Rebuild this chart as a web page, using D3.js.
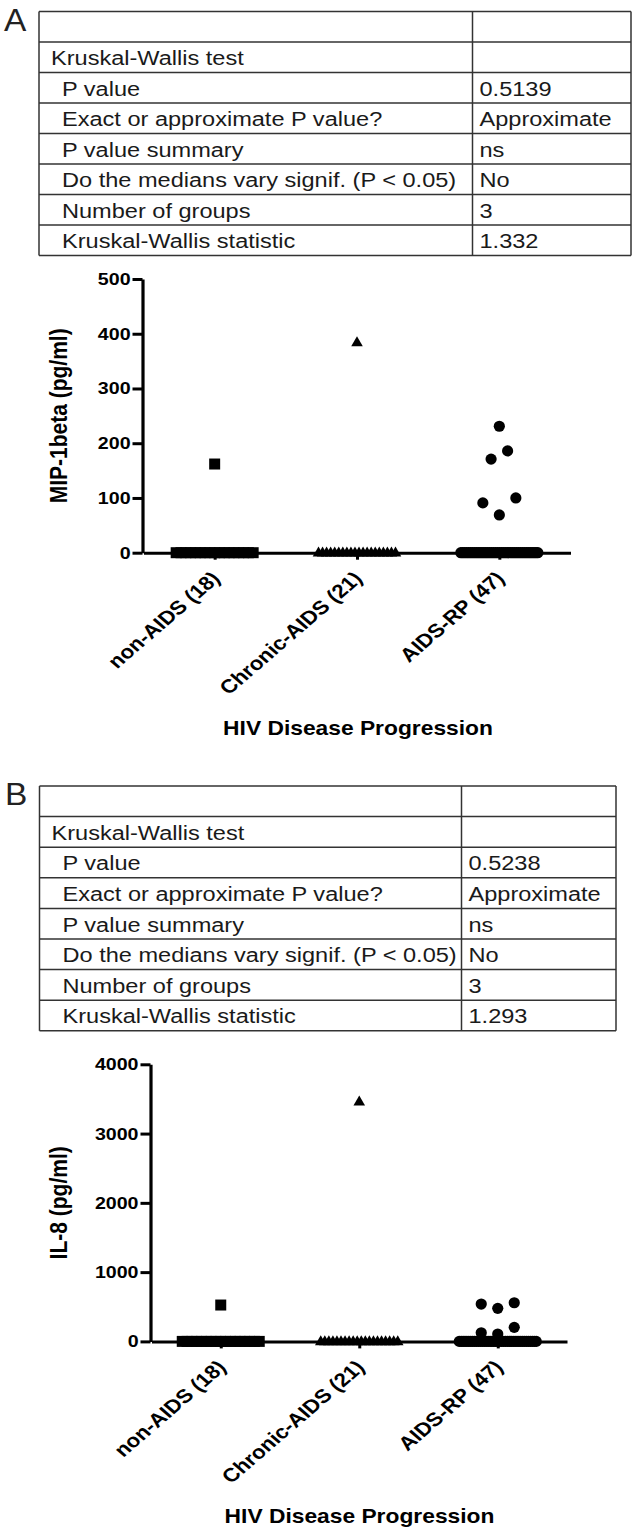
<!DOCTYPE html>
<html><head><meta charset="utf-8">
<script src="https://cdn.jsdelivr.net/npm/d3@7"></script>
<style>
html,body{margin:0;padding:0;background:#fff;}
svg{display:block;}
</style></head>
<body>
<script>
// ---------------- DATA ----------------
const groups = ["non-AIDS (18)", "Chronic-AIDS (21)", "AIDS-RP (47)"];
const groupShapes = ["square", "triangle", "circle"];

const tableLabels = ["", "Kruskal-Wallis test", "P value", "Exact or approximate P value?",
  "P value summary", "Do the medians vary signif. (P < 0.05)", "Number of groups", "Kruskal-Wallis statistic"];
const tableIndent = [0, 0, 1, 1, 1, 1, 1, 1];
const tableA_values = ["", "", "0.5139", "Approximate", "ns", "No", "3", "1.332"];
const tableB_values = ["", "", "0.5238", "Approximate", "ns", "No", "3", "1.293"];

// MIP-1beta (pg/ml)
const mip_nonAIDS = [162, 0,0,0,0,0,0,0,0,0,0,0,0,0,0,0,0,0];
const mip_chronic = [384, 0,0,0,0,0,0,0,0,0,0,0,0,0,0,0,0,0,0,0,0];
const mip_aidsRP  = [231, 186, 171, 100, 91, 69,
  0,0,0,0,0,0,0,0,0,0,0,0,0,0,0,0,0,0,0,0,0,0,0,0,0,0,0,0,0,0,0,0,0,0,0,0,0,0,0,0,0];
const mipTicks = [0, 100, 200, 300, 400, 500];

// IL-8 (pg/ml)
const il8_nonAIDS = [525, 0,0,0,0,0,0,0,0,0,0,0,0,0,0,0,0,0];
const il8_chronic = [3460, 0,0,0,0,0,0,0,0,0,0,0,0,0,0,0,0,0,0,0,0];
const il8_aidsRP  = [558, 539, 477, 203, 125, 107,
  0,0,0,0,0,0,0,0,0,0,0,0,0,0,0,0,0,0,0,0,0,0,0,0,0,0,0,0,0,0,0,0,0,0,0,0,0,0,0,0,0];
const il8Ticks = [0, 1000, 2000, 3000, 4000];

// ---------------- DRAWING ----------------
const W = 634, H = 1530;
const SX = 1.16; // horizontal stretch of the source figure's lettering
const svg = d3.select("body").append("svg").attr("width", W).attr("height", H)
  .style("font-family", "'Liberation Sans', Arial, Helvetica, sans-serif");
svg.append("rect").attr("width", W).attr("height", H).attr("fill", "#fff");

function stretchText(g, x, y, str, opts) {
  return g.append("text")
    .attr("transform", `translate(${x},${y}) scale(${opts.sx || 1},1)` + (opts.rot ? ` rotate(${opts.rot})` : ""))
    .attr("font-size", opts.size)
    .attr("font-weight", opts.weight || "normal")
    .attr("fill", opts.fill || "#000")
    .attr("text-anchor", opts.anchor || "start")
    .attr("dominant-baseline", opts.baseline || "alphabetic")
    .text(str);
}

function drawTable(top, left, divider, right, rowH, values) {
  const g = svg.append("g");
  const n = tableLabels.length;
  const yRow = d3.scaleLinear().domain([0, n]).range([top, top + rowH * n]);
  g.selectAll("line.h").data(d3.range(n + 1)).join("line")
    .attr("x1", left).attr("x2", right)
    .attr("y1", d => yRow(d)).attr("y2", d => yRow(d))
    .attr("stroke", "#333").attr("stroke-width", 1.5);
  [left, divider, right].forEach(x => {
    g.append("line").attr("x1", x).attr("x2", x)
      .attr("y1", yRow(0)).attr("y2", yRow(n))
      .attr("stroke", "#333").attr("stroke-width", 1.5);
  });
  d3.range(n).forEach(i => {
    const cy = yRow(i + 0.5) + 1;
    if (tableLabels[i]) stretchText(g, left + (tableIndent[i] ? 23 : 12), cy, tableLabels[i],
      {size: 19.8, sx: 1.19, baseline: "central", fill: "#1a1a1a"});
    if (values[i]) stretchText(g, divider + 7, cy, values[i],
      {size: 19.8, sx: 1.19, baseline: "central", fill: "#1a1a1a"});
  });
}

function layoutGroup(values, cx, y) {
  const spacing = 16.5, maxSpread = 77, T = 15;
  const pts = values.map(v => ({v, py: y(v), px: cx}));
  const baseline = pts.filter(p => p.v === 0);
  const others = pts.filter(p => p.v !== 0).sort((a, b) => a.v - b.v);
  const clusters = [];
  if (baseline.length) clusters.push(baseline);
  let cur = [];
  others.forEach(p => {
    if (cur.length && Math.abs(cur[cur.length - 1].py - p.py) > T) { clusters.push(cur); cur = []; }
    cur.push(p);
  });
  if (cur.length) clusters.push(cur);
  clusters.forEach(c => {
    const n = c.length;
    const sp = n > 1 ? Math.min(spacing, maxSpread / (n - 1)) : 0;
    c.forEach((p, i) => {
      let slot;
      if (n % 2 === 1) slot = i === 0 ? 0 : (i % 2 === 1 ? -Math.ceil(i / 2) : Math.ceil(i / 2));
      else slot = (i % 2 === 0 ? -1 : 1) * (Math.floor(i / 2) + 0.5);
      p.px = cx + slot * sp;
    });
  });
  return pts;
}

function drawChart(cfg) {
  const g = svg.append("g");
  const y = d3.scaleLinear().domain([0, cfg.ticks[cfg.ticks.length - 1]]).range([cfg.bottom, cfg.top]);
  const x = d3.scalePoint().domain(groups).range([cfg.left, cfg.right]).padding(0.5);

  const symbols = {
    square: d3.symbol().type(d3.symbolSquare).size(121),
    triangle: d3.symbol().type(d3.symbolTriangle).size(58),
    circle: d3.symbol().type(d3.symbolCircle).size(Math.PI * 5.6 * 5.6)
  };
  cfg.data.forEach((vals, gi) => {
    const pts = layoutGroup(vals, x(groups[gi]), y);
    g.append("g").selectAll("path").data(pts.slice().reverse()).join("path")
      .attr("d", symbols[groupShapes[gi]]())
      .attr("transform", d => `translate(${d.px},${d.py + (groupShapes[gi] === "triangle" ? 0.5 : 0)})`)
      .attr("fill", "#000");
  });

  // y axis
  const ya = g.append("g").attr("transform", `translate(${cfg.axisX},0)`)
    .call(d3.axisLeft(y).tickValues(cfg.ticks).tickSize(10).tickSizeOuter(0).tickPadding(0.5)
      .tickFormat(d3.format("d")));
  ya.select(".domain").attr("stroke", "#000").attr("stroke-width", 3.2);
  ya.selectAll(".tick line").attr("stroke", "#000").attr("stroke-width", 3);
  ya.selectAll(".tick text").attr("font-size", 17.2).attr("font-weight", "bold")
    .attr("font-family", "'Liberation Sans', Arial, sans-serif").attr("fill", "#000")
    .attr("transform", "scale(1.14,1)");

  // x axis
  const xa = g.append("g").attr("transform", `translate(0,${cfg.bottom})`)
    .call(d3.axisBottom(x).tickSize(7).tickSizeOuter(0).tickFormat(""));
  xa.select(".domain").attr("stroke", "#000").attr("stroke-width", 3);
  xa.selectAll(".tick line").attr("stroke", "#000").attr("stroke-width", 3);

  // category labels (rotated)
  groups.forEach(gr => {
    stretchText(g, x(gr) + 6.5, cfg.bottom + 27, gr,
      {size: 19.2, sx: SX, rot: -45, weight: "bold", anchor: "end"});
  });

  // axis titles
  stretchText(g, cfg.yTitleX, (cfg.top + cfg.bottom) / 2, cfg.yTitle,
    {size: 21, sx: SX, rot: -90, weight: "bold", anchor: "middle", baseline: "central"});
  stretchText(g, cfg.xTitleX, cfg.xTitleY, "HIV Disease Progression",
    {size: 20, sx: 1.14, weight: "bold", anchor: "middle", baseline: "central"});
}

// Panel letters
stretchText(svg, 4, 31, "A", {size: 31, sx: 1.08, fill: "#222"});
stretchText(svg, 5, 805, "B", {size: 31, sx: 1.08, fill: "#222"});

drawTable(11.5, 39, 472.5, 631, 30.5, tableA_values);
drawTable(786, 39.5, 461.5, 616, 30.6, tableB_values);

drawChart({top: 279, bottom: 552.7, axisX: 142.5, left: 143.5, right: 570.5, ticks: mipTicks,
  yTitle: "MIP-1beta (pg/ml)", yTitleX: 58.5, xTitleX: 358, xTitleY: 728,
  data: [mip_nonAIDS, mip_chronic, mip_aidsRP]});
drawChart({top: 1064.3, bottom: 1341.4, axisX: 150.5, left: 151.5, right: 567, ticks: il8Ticks,
  yTitle: "IL-8 (pg/ml)", yTitleX: 58, xTitleX: 359.5, xTitleY: 1516,
  data: [il8_nonAIDS, il8_chronic, il8_aidsRP]});
</script>
</body></html>
